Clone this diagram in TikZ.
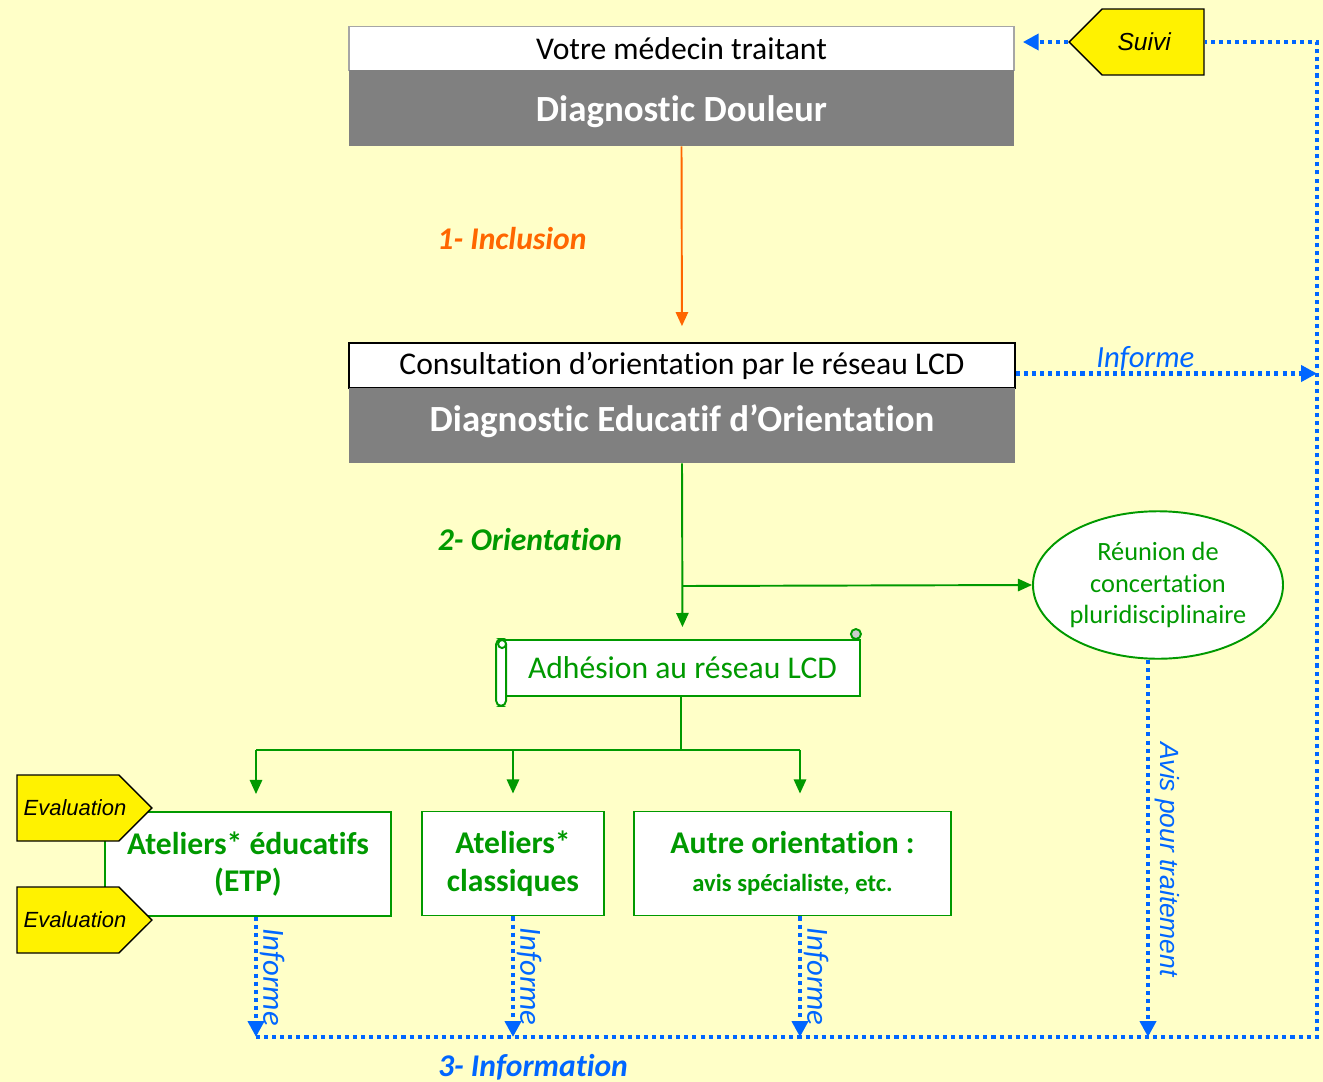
\documentclass[tikz,border=0pt]{standalone}
\usepackage{fontspec}
\setmainfont{Carlito}[Ligatures=NoCommon]
\newfontfamily\arialfont{Liberation Sans}
\usetikzlibrary{arrows.meta,shapes.geometric,shapes.symbols,calc}
\definecolor{bgyellow}{RGB}{255,255,200}
\definecolor{lcdgreen}{RGB}{0,153,0}
\definecolor{lcdorange}{RGB}{255,102,0}
\definecolor{lcdblue}{RGB}{0,102,255}
\definecolor{lcdgray}{RGB}{128,128,128}

\begin{document}
\begin{tikzpicture}[
    x=0.02cm, y=-0.02cm,
    header/.style={rectangle, draw=#1, line width=1pt, fill=white, minimum width=13.3cm, minimum height=0.88cm, inner sep=0pt, font=\fontsize{18}{21}\selectfont},
    diag/.style={rectangle, fill=lcdgray, minimum width=13.3cm, minimum height=1.52cm, inner sep=0pt, text=white, font=\bfseries\fontsize{21}{25}\selectfont},
    atelier/.style={rectangle, draw=lcdgreen, line width=1.1pt, fill=white, minimum height=2.08cm, inner sep=0pt, align=center, text=lcdgreen, font=\bfseries\fontsize{18}{21.5}\selectfont},
    evaltag/.style={signal, signal to=#1, draw=black, line width=0.8pt, fill=yellow, minimum width=2.7cm, minimum height=1.32cm, inner sep=0pt, font=\arialfont\itshape\fontsize{12.5}{15}\selectfont},
    phase/.style={font=\bfseries\itshape\fontsize{18}{21}\selectfont},
    informe/.style={text=lcdblue, inner sep=1pt, font=\itshape\fontsize{17.5}{20}\selectfont},
    flow/.style={draw=lcdgreen, line width=1.1pt},
    flowarrow/.style={flow, -{Triangle[length=8pt, width=7pt]}},
    infopath/.style={draw=lcdblue, line width=2.3pt, dash pattern=on 2.3pt off 2.3pt},
    infoline/.style={infopath, -{Triangle[length=9pt, width=9pt]}}
]

% Background
\fill[bgyellow] (0,0) rectangle (1323,1082);
\useasboundingbox (0,0) rectangle (1323,1082);

% Medecin traitant
\node[header=lcdgray!70] (medecin) at (681.5,48.5) {Votre médecin traitant};
\node[diag] (douleur) at (681.5,108) {\raisebox{-7.4pt}[0pt][0pt]{Diagnostic Douleur}};

% Consultation LCD
\node[header=black, minimum width=13.32cm, minimum height=0.9cm] (consult) at (682,365.5) {Consultation d’orientation par le réseau LCD};
\node[diag, minimum width=13.32cm, minimum height=1.5cm] (educ) at (682,425.5) {\raisebox{-3.4pt}[0pt][0pt]{Diagnostic Educatif d’Orientation}};

% Inclusion
\draw[draw=lcdorange, line width=1.1pt, -{Triangle[length=8pt, width=7pt]}, shorten >=0.32cm] (douleur.south) -- (consult.north);
\node[phase, text=lcdorange] (inclusion) at (512,239) {1- Inclusion};

% Adhesion (scroll)
\node[draw=lcdgreen, line width=1.1pt, fill=white, minimum width=7.1cm, minimum height=1.12cm, text=lcdgreen, font=\fontsize{18}{21}\selectfont] (adh) at (682.5,668) {Adhésion au réseau LCD};
\draw[flow, fill=white, rounded corners=3] ($(adh.north west)+(-8,0)$) rectangle ($(adh.south west)+(2,9)$);
\draw[flow, fill=white] ($(adh.north west)+(-2,5)$) circle [radius=4];
\draw[flow, fill=lcdgray!40] ($(adh.north east)+(-5,-5)$) circle [radius=5];

% Reunion
\node[ellipse, draw=lcdgreen, line width=1.1pt, fill=white, minimum width=4.74cm, minimum height=2.95cm, inner sep=0pt, align=center, text=lcdgreen, font=\fontsize{15}{18}\selectfont] (rcp) at (1158,585) {Réunion de\\concertation\\pluridisciplinaire};

% Orientation
\coordinate (branch) at (682,586);
\draw[flowarrow, shorten >=0.24cm] (educ.south) -- (adh.north);
\draw[flowarrow] (branch) -- (rcp.west);
\node[phase, text=lcdgreen] (orientation) at (530,540) {2- Orientation};

% Ateliers
\node[atelier, minimum width=5.72cm] (etp) at (248,864) {Ateliers* éducatifs\\(ETP)};
\node[atelier, minimum width=3.64cm] (classiques) at (513,863.5) {Ateliers*\\classiques};
\node[atelier, minimum width=6.34cm] (autre) at (792.5,863.5) {Autre orientation :\\{\fontsize{14}{20}\selectfont avis spécialiste, etc.}};

\coordinate (fork) at (681,750);
\coordinate (forkL) at (256,750);
\coordinate (forkR) at (800,750);
\draw[flow] (fork |- adh.south) -- (fork);
\draw[flow] (forkL) -- (forkR);
\draw[flowarrow, shorten >=0.34cm] (forkL) -- (forkL |- etp.north);
\draw[flowarrow, shorten >=0.34cm] (classiques.north |- fork) -- (classiques.north);
\draw[flowarrow, shorten >=0.34cm] (forkR) -- (forkR |- autre.north);

% Evaluation
\node[evaltag=east] (eval1) at (68,808) {\makebox[40pt]{\hspace*{8pt}Evaluation}};
\node[evaltag=east] (eval2) at (68,920) {\makebox[40pt]{\hspace*{8pt}Evaluation}};

% Suivi
\node[evaltag=west, font=\arialfont\itshape\fontsize{14}{16}\selectfont] (suivi) at (1153,42) {Suivi\hspace*{10pt}};

% Information
\coordinate (busL) at (256,1037);
\coordinate (busR) at (1317,1037);
\coordinate (topR) at (1317,42);
\coordinate (avis) at ($(rcp.south)+(-10,0)$);
\coordinate (consultR) at ($(consult.east)+(0,8)$);
\draw[infopath] (busL) -- (busR) -- (topR) -- (suivi.east);
\draw[infoline, shorten >=0.16cm] (suivi.west) -- (suivi.west -| medecin.east);
\draw[infoline] (consultR) -- (consultR -| busR) node[informe, pos=0.43, above, inner sep=0pt] {Informe};
\draw[infoline] (forkL |- etp.south) -- (busL) node[informe, midway, rotate=-90, above] {Informe};
\draw[infoline] (classiques.south) -- (classiques.south |- busL) node[informe, midway, rotate=-90, above] {Informe};
\draw[infoline] (forkR |- autre.south) -- (forkR |- busL) node[informe, midway, rotate=-90, above] {Informe};
\draw[infoline] (avis) -- (avis |- busL) node[pos=0.53, rotate=-90, above, inner sep=3pt, text=lcdblue, font=\arialfont\itshape\fontsize{15}{18}\selectfont] {Avis pour traitement};
\node[phase, text=lcdblue] (information) at (533,1067) {3- Information};

\end{tikzpicture}
\end{document}
